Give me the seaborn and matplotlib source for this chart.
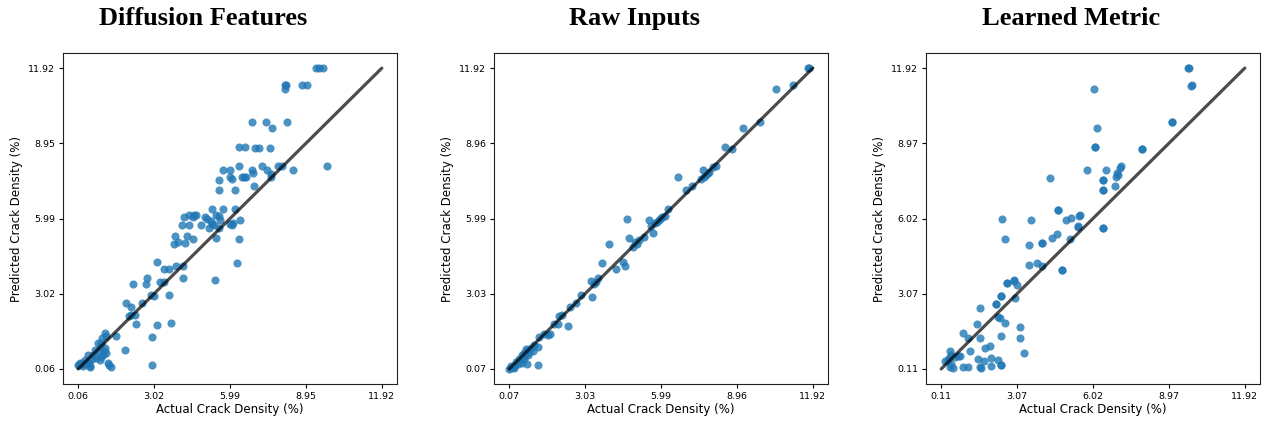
import numpy as np
import pandas as pd
import matplotlib
matplotlib.use("Agg")
import matplotlib.pyplot as plt
import seaborn as sns

# ---- data -------------------------------------------------------------
titles = ["Diffusion Features", "Raw Inputs", "Learned Metric"]

diff_points = [
    (9.35, 11.92), (9.48, 11.92), (9.61, 11.92),
    (8.15, 11.24), (8.19, 11.24), (8.12, 11.11), (8.80, 11.24), (8.99, 11.24),
    (6.84, 9.79), (7.41, 9.79), (7.63, 9.57), (8.23, 9.79),
    (6.35, 8.81), (6.58, 8.81), (6.97, 8.75), (7.11, 8.75), (7.54, 8.75),
    (9.78, 8.06), (8.45, 7.89),
    (5.71, 7.90), (5.98, 7.90), (6.35, 8.06), (6.86, 7.90), (6.88, 7.77), (7.25, 8.06),
    (7.45, 7.89), (7.60, 7.73), (7.86, 8.06), (8.03, 8.06),
    (5.57, 7.51), (5.98, 7.62), (6.07, 7.54), (6.44, 7.63), (6.54, 7.63), (6.63, 7.63),
    (6.93, 7.28), (7.58, 7.62), (5.57, 7.12), (6.19, 7.12),
    (5.30, 6.37), (5.70, 6.37), (6.19, 6.37),
    (4.19, 6.04), (4.40, 6.11), (4.56, 6.04), (4.65, 6.11), (4.58, 6.11),
    (4.12, 5.72), (4.40, 5.72), (4.86, 5.72), (5.00, 6.04), (5.10, 5.98), (5.25, 5.90),
    (5.15, 5.62), (5.30, 5.78), (5.38, 5.72), (5.46, 6.11), (5.55, 6.07), (5.60, 5.95),
    (5.54, 5.62), (5.44, 5.21), (5.98, 5.78), (6.08, 5.72), (6.12, 5.82), (6.37, 5.95),
    (6.32, 5.20), (6.27, 4.25),
    (3.84, 5.30), (3.81, 4.97), (3.94, 5.07), (4.30, 5.30), (4.56, 5.20), (4.23, 5.04),
    (3.13, 4.27), (3.43, 4.00), (3.59, 4.00), (3.87, 4.13), (4.17, 4.13), (4.14, 3.64),
    (3.25, 3.48), (3.43, 3.48), (2.74, 3.64), (2.72, 3.40), (2.21, 3.40), (5.41, 3.55),
    (2.91, 2.99), (3.02, 2.93), (3.59, 2.99), (2.57, 2.66), (1.91, 2.66), (2.12, 2.50),
    (2.03, 2.14), (2.13, 2.18), (2.26, 2.20), (2.33, 1.83), (3.13, 1.78), (3.70, 1.88),
    (2.96, 1.31), (2.95, 0.23), (1.87, 0.80), (1.52, 1.36),
    (1.10, 1.46), (1.00, 1.27), (1.16, 1.36), (0.12, 0.29), (0.51, 0.16), (0.32, 0.42),
    (0.64, 0.62), (0.84, 0.75), (0.90, 0.94), (1.10, 0.88), (1.03, 0.62), (0.77, 0.49),
    (0.45, 0.62), (0.97, 1.07), (1.16, 0.68), (0.25, 0.16), (0.49, 0.29), (0.90, 0.42),
    (0.08, 0.23), (0.54, 0.14), (1.25, 0.23), (1.34, 0.14), (1.22, 0.28), (0.06, 0.20),
    (0.40, 0.35), (0.70, 0.80), (0.95, 0.55), (0.60, 0.45), (0.30, 0.25), (1.05, 0.78),
    (0.85, 1.10), (0.20, 0.30),
]

raw_points = [
    (11.72, 11.92), (11.78, 11.92), (11.14, 11.25), (10.49, 11.11), (9.84, 9.79),
    (9.19, 9.57), (8.51, 8.81), (8.76, 8.75), (7.62, 7.90), (7.56, 7.54), (7.69, 7.64),
    (7.82, 7.77), (8.02, 8.03), (8.12, 8.06), (6.65, 7.62), (6.97, 7.12), (7.19, 7.28),
    (6.25, 6.37), (6.16, 6.11), (5.99, 6.02), (5.90, 5.95), (5.54, 5.95), (5.60, 5.70),
    (5.69, 5.44), (4.65, 5.98), (4.75, 5.21), (4.98, 5.07), (5.15, 5.14), (5.34, 5.28),
    (3.98, 4.98), (3.70, 4.23), (4.24, 4.01), (4.50, 4.29), (4.59, 4.14), (3.26, 3.55),
    (3.52, 3.64), (3.45, 3.49), (3.39, 3.42), (3.30, 2.90), (2.87, 2.99), (2.67, 2.67),
    (2.44, 2.51), (2.35, 1.77), (2.13, 2.19), (2.02, 2.15), (1.96, 1.84), (1.83, 1.84),
    (1.67, 1.43), (1.44, 1.43), (1.24, 1.34), (1.18, 0.95), (0.98, 0.76), (1.19, 0.24),
    (0.77, 0.27), (0.07, 0.07), (0.12, 0.10), (0.20, 0.15), (0.30, 0.22), (0.35, 0.33),
    (0.45, 0.45), (0.50, 0.40), (0.55, 0.60), (0.60, 0.55), (0.65, 0.70), (0.70, 0.62),
    (0.72, 0.85), (0.80, 0.80), (0.85, 0.72), (0.65, 0.45), (0.55, 0.30), (0.90, 0.90),
    (1.05, 1.00), (1.58, 1.41), (0.40, 0.25), (0.25, 0.10), (0.15, 0.20), (0.80, 0.60),
    (5.75, 5.80), (5.85, 5.85), (6.05, 6.05), (4.90, 4.88), (5.05, 5.00), (7.73, 7.70),
    (7.85, 7.82),
]

learned_points = [
    (9.77, 11.92), (9.73, 11.92), (9.87, 11.25), (9.84, 11.23), (6.05, 11.12),
    (9.09, 9.80), (9.09, 9.80), (6.17, 9.56), (6.09, 8.83), (6.09, 8.83), (7.93, 8.76),
    (7.93, 8.76), (5.80, 7.91), (6.53, 7.91), (7.10, 8.07), (7.08, 8.02), (4.34, 7.59),
    (6.39, 7.52), (6.39, 7.52), (6.95, 7.79), (6.98, 7.72), (6.92, 7.63), (6.86, 7.30),
    (6.41, 7.12), (6.41, 7.12), (4.66, 6.36), (4.66, 6.36), (5.47, 6.13), (5.50, 6.15),
    (5.15, 6.03), (4.98, 5.95), (5.43, 5.68), (5.45, 5.73), (6.39, 5.64), (6.39, 5.64),
    (5.11, 5.20), (2.47, 5.98), (3.61, 5.95), (2.60, 5.23), (4.43, 5.26), (4.60, 5.42),
    (4.02, 5.06), (4.02, 5.06), (3.53, 4.97), (3.53, 4.21), (3.85, 4.27), (4.02, 4.14),
    (4.82, 3.99), (4.82, 3.99), (2.67, 3.49), (2.67, 3.49), (2.95, 3.62), (3.05, 3.41),
    (2.94, 3.55), (2.44, 2.97), (2.44, 2.97), (2.97, 2.90), (2.24, 2.65), (2.24, 2.65),
    (1.61, 2.51), (2.32, 2.16), (2.40, 2.12), (2.61, 1.90), (1.49, 1.86), (3.19, 1.77),
    (0.96, 1.51), (1.16, 1.34), (1.61, 1.31), (2.43, 1.40), (3.19, 1.34), (2.00, 1.03),
    (1.81, 0.95), (1.25, 0.80), (3.33, 0.73), (0.45, 0.82), (0.51, 0.67), (0.64, 0.60),
    (0.77, 0.64), (0.84, 0.64), (0.25, 0.43), (0.37, 0.47), (0.45, 0.21), (0.58, 0.15),
    (0.96, 0.21), (1.16, 0.18), (1.55, 0.50), (1.78, 0.43), (2.07, 0.54), (2.32, 0.47),
    (2.46, 0.28), (2.46, 0.28), (2.07, 0.24), (1.61, 0.21), (1.68, 0.15), (0.49, 0.30),
    (0.40, 0.55),
]

# value range of each panel (used for the identity line and ticks)
ranges = [(0.060, 11.916), (0.068, 11.918), (0.114, 11.924)]
tick_labels = [
    ["0.06", "3.02", "5.99", "8.95", "11.92"],
    ["0.07", "3.03", "5.99", "8.96", "11.92"],
    ["0.11", "3.07", "6.02", "8.97", "11.92"],
]

# ---- style ------------------------------------------------------------
sns.set_theme(style="ticks")
plt.rcParams["font.family"] = ["DejaVu Sans"]
for key in ["axes.edgecolor", "xtick.color", "ytick.color",
            "text.color", "axes.labelcolor"]:
    plt.rcParams[key] = "black"

fig = plt.figure(figsize=(12.68, 4.23), dpi=100)
lefts = [63 / 1268, 494 / 1268, 926 / 1268]
width = 334 / 1268
bottom = (423 - 384) / 423
height = 331 / 423
title_x = [0.421, 0.422, 0.435]

panels = [diff_points, raw_points, learned_points]
for i, (pts, title) in enumerate(zip(panels, titles)):
    ax = fig.add_axes([lefts[i], bottom, width, height])
    df = pd.DataFrame(pts, columns=["actual", "predicted"])
    sns.scatterplot(data=df, x="actual", y="predicted", ax=ax,
                    color="#1f77b4", alpha=0.8, s=34, linewidth=0)
    lo, hi = ranges[i]
    ax.plot([lo, hi], [lo, hi], color="black", alpha=0.7, lw=2.3)
    ticks = np.linspace(lo, hi, 5)
    ax.set_xticks(ticks)
    ax.set_yticks(ticks)
    ax.set_xticklabels(tick_labels[i], fontsize=6.8)
    ax.set_yticklabels(tick_labels[i], fontsize=6.8)
    ax.tick_params(length=3, width=0.8, pad=2.5)
    for sp in ax.spines.values():
        sp.set_linewidth(0.8)
        sp.set_color("#222222")
    ax.set_xlabel("Actual Crack Density (%)", fontsize=8.5, labelpad=2)
    ax.set_ylabel("Predicted Crack Density (%)", fontsize=8.5, labelpad=4)
    ax.set_title(title, fontsize=19, fontweight="bold", color="black",
                 family=["Liberation Serif"], pad=20, x=title_x[i])

fig.savefig("out.png", dpi=100, facecolor="white")
